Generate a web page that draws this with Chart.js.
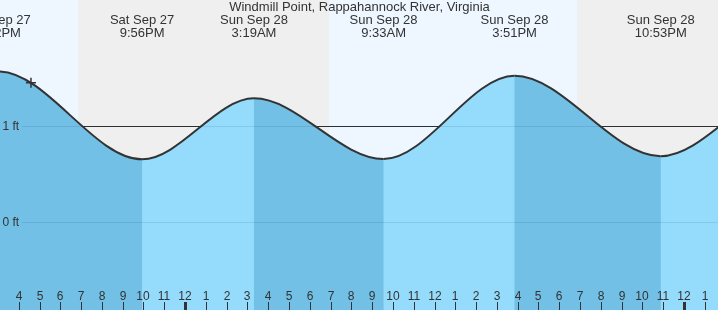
<!DOCTYPE html>
<html>
<head>
<meta charset="utf-8">
<script src="https://cdn.jsdelivr.net/npm/chart.js@4/dist/chart.umd.min.js"></script>
<style>
html,body{margin:0;padding:0;background:#fff;}
canvas{display:block;}
</style>
</head>
<body>
<canvas id="c" width="718" height="310"></canvas>
<script>
// ---- data (hours relative to Sun Sep 28 00:00) ----
const titleText = "Windmill Point, Rappahannock River, Virginia";
const tideTimes   = [-15.2, -8.97, -2.067, 3.317, 9.55, 15.85, 22.883, 29.1, 35.4];
const tideHeights = [0.62, 1.575, 0.654, 1.293, 0.657, 1.530, 0.686, 1.41, 0.66];
const extremeTimes = [-8.97, -2.067, 3.317, 9.55, 15.85, 22.883];
const extremeDays  = ["Sat Sep 27", "Sat Sep 27", "Sun Sep 28", "Sun Sep 28", "Sun Sep 28", "Sun Sep 28"];
const extremeClock = ["3:02PM", "9:56PM", "3:19AM", "9:33AM", "3:51PM", "10:53PM"];
const nightStarts = [-5.147, 18.855];
const nightEnds   = [6.926, 30.9];
const nowTime = [-7.41];
const nowHeight = [1.457];
const tickHours  = [-8,-7,-6,-5,-4,-3,-2,-1,0,1,2,3,4,5,6,7,8,9,10,11,12,13,14,15,16,17,18,19,20,21,22,23,24,25];
const tickLabels = ["4","5","6","7","8","9","10","11","12","1","2","3","4","5","6","7","8","9","10","11","12","1","2","3","4","5","6","7","8","9","10","11","12","1"];
const midnightHours = [0, 24];
const yGridValues = [0, 1];
const yGridLabels = ["0 ft", "1 ft"];
const refLevel = [1];

const DAY = "#eef7ff", NIGHT = "#efefef";
const FALL = "#72c0e6", RISE = "#94dbfc";
const INK = "#333333";
const FONT = "'Liberation Sans', Arial, sans-serif";

const decor = {
  id: "decor",
  beforeDatasetsDraw(chart) {
    const {ctx, chartArea: a, scales: {x, y}} = chart;
    ctx.save();
    ctx.fillStyle = DAY;
    ctx.fillRect(a.left, a.top, a.right - a.left, a.bottom - a.top);
    ctx.fillStyle = NIGHT;
    nightStarts.forEach((s, i) => {
      const x0 = Math.round(x.getPixelForValue(s));
      const x1 = Math.round(x.getPixelForValue(nightEnds[i]));
      ctx.fillRect(x0, a.top, x1 - x0, a.bottom - a.top);
    });
    ctx.strokeStyle = INK;
    ctx.lineWidth = 1;
    refLevel.forEach(v => {
      const py = Math.round(y.getPixelForValue(v)) + 0.5;
      ctx.beginPath(); ctx.moveTo(a.left, py); ctx.lineTo(a.right, py); ctx.stroke();
    });
    ctx.restore();
  },
  afterDatasetsDraw(chart) {
    const {ctx, chartArea: a, scales: {x, y}} = chart;
    ctx.save();
    ctx.strokeStyle = "rgba(0,40,80,0.11)";
    ctx.lineWidth = 1;
    ctx.font = "12px " + FONT;
    ctx.fillStyle = INK;
    ctx.textAlign = "left";
    ctx.textBaseline = "middle";
    yGridValues.forEach((v, i) => {
      const py = Math.round(y.getPixelForValue(v)) + 0.5;
      ctx.beginPath(); ctx.moveTo(22, py); ctx.lineTo(a.right, py); ctx.stroke();
      ctx.fillText(yGridLabels[i], 2.5, py);
    });
    ctx.textAlign = "center";
    ctx.textBaseline = "alphabetic";
    tickHours.forEach((h, i) => {
      const px = Math.round(x.getPixelForValue(h));
      ctx.fillText(tickLabels[i], px, 300);
      const w = midnightHours.includes(h) ? 3 : 1;
      ctx.fillRect(px - Math.floor(w / 2), 302, w, 8);
    });
    ctx.font = "13px " + FONT;
    extremeTimes.forEach((t, i) => {
      const px = x.getPixelForValue(t);
      ctx.fillText(extremeDays[i], px, 24);
      ctx.fillText(extremeClock[i], px, 37);
    });
    ctx.fillText(titleText, 359.5, 11);
    ctx.restore();
  }
};

const tidePoints = tideTimes.map((t, i) => ({x: t, y: tideHeights[i]}));

new Chart(document.getElementById("c"), {
  type: "line",
  data: {
    datasets: [
      {
        label: "now",
        data: nowTime.map((t, i) => ({x: t, y: nowHeight[i]})),
        showLine: false,
        pointStyle: "cross",
        pointRadius: 5,
        pointBorderWidth: 1.5,
        pointBorderColor: INK,
        order: 0
      },
      {
        label: "tide",
        data: tidePoints,
        borderColor: INK,
        borderWidth: 2,
        pointRadius: 0,
        cubicInterpolationMode: "monotone",
        fill: "start",
        backgroundColor: FALL,
        segment: {
          backgroundColor: c => (c.p1.parsed.y > c.p0.parsed.y ? RISE : FALL)
        },
        order: 1
      },
      {
        label: "base",
        data: tidePoints,
        borderWidth: 0,
        borderColor: "rgba(0,0,0,0)",
        pointRadius: 0,
        cubicInterpolationMode: "monotone",
        fill: "start",
        backgroundColor: "#83cef1",
        order: 2
      }
    ]
  },
  options: {
    responsive: false,
    devicePixelRatio: 1,
    animation: false,
    layout: {padding: 0, autoPadding: false},
    plugins: {legend: {display: false}, tooltip: {enabled: false}, title: {display: false}},
    scales: {
      x: {type: "linear", min: -8.9, max: 25.636, display: false},
      y: {type: "linear", min: -0.9256, max: 2.324, display: false}
    }
  },
  plugins: [decor]
});
</script>
</body>
</html>
